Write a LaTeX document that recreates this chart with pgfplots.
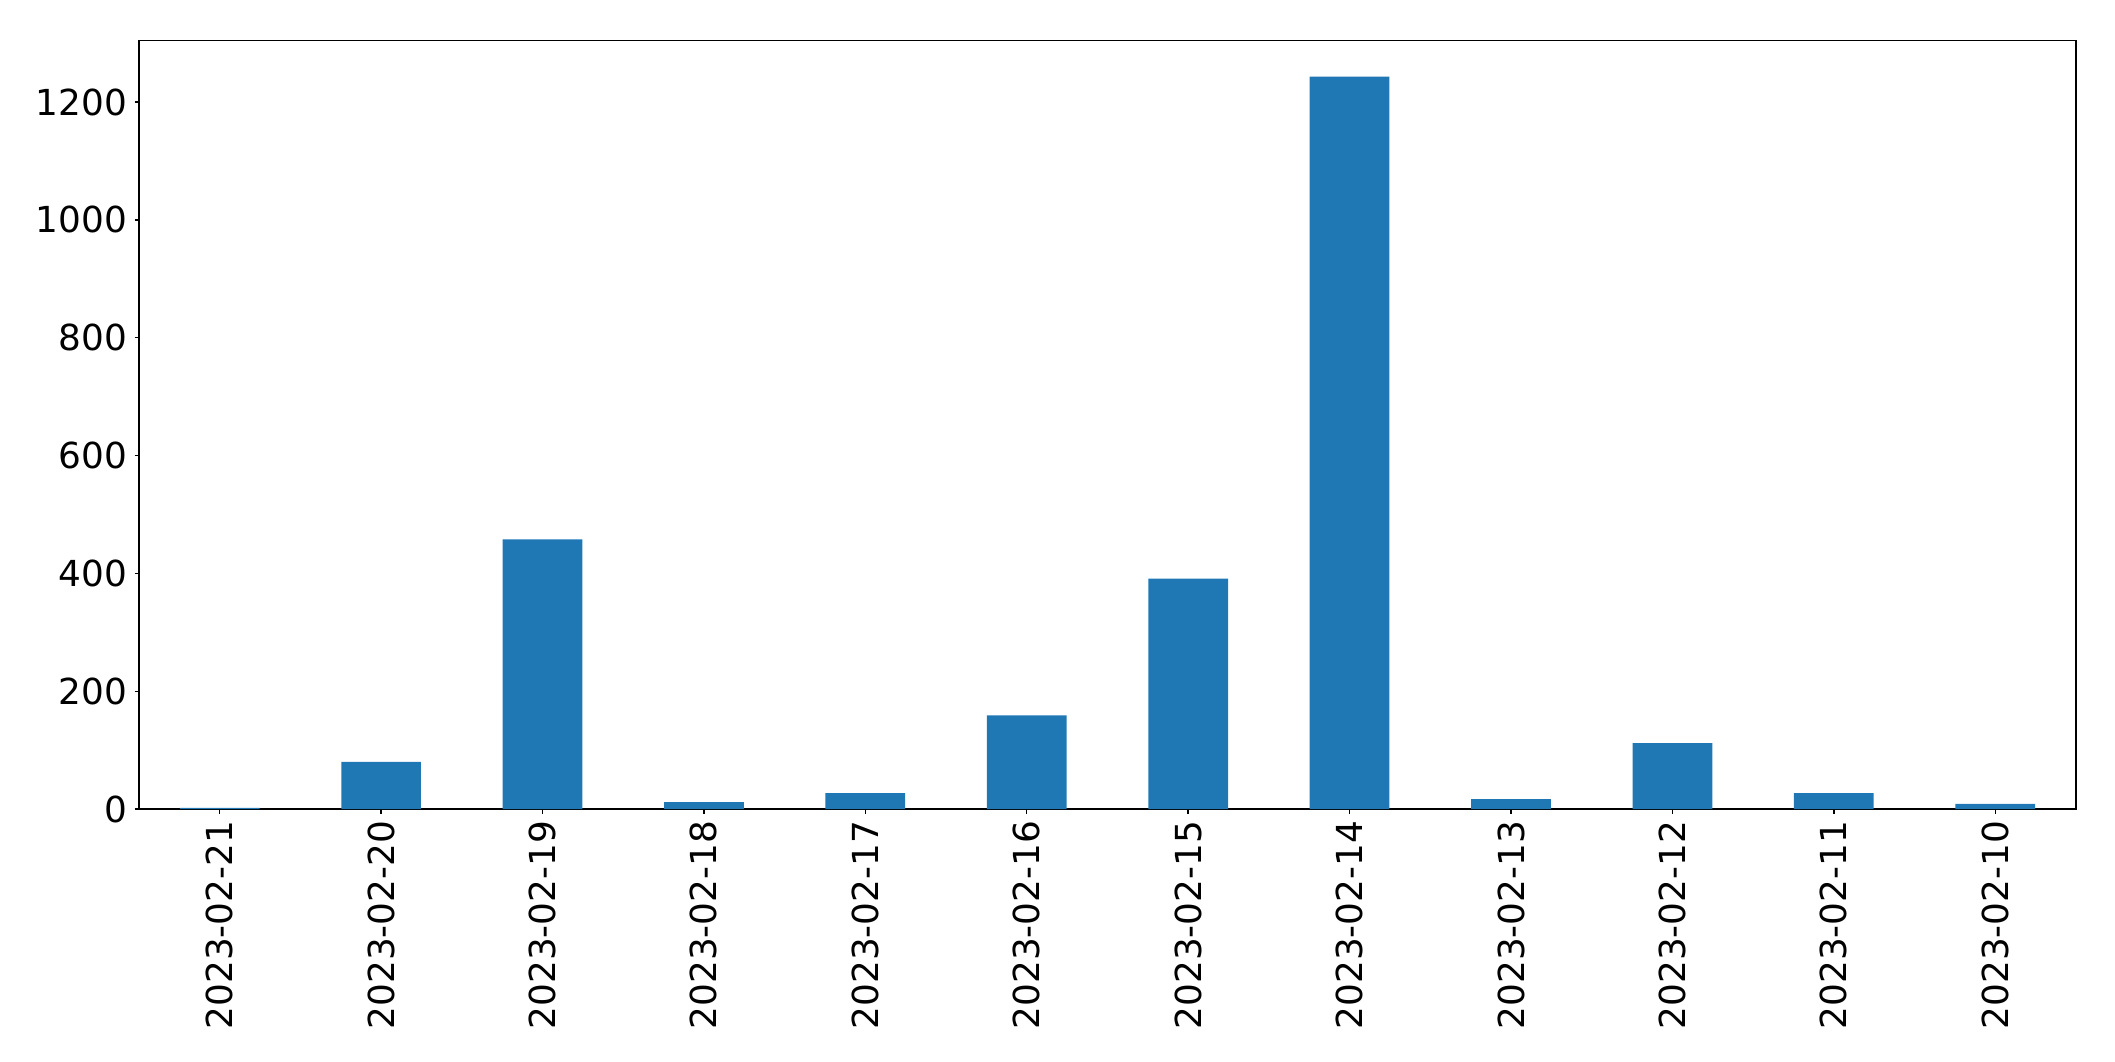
\documentclass[border=0pt]{standalone}
\usepackage{pgfplots}
\pgfplotsset{compat=1.18}
\usepackage{fontspec}
\setmainfont{DejaVu Sans}
\definecolor{mplblue}{HTML}{1F77B4}
\begin{document}
\begin{tikzpicture}
\path (0,0) rectangle (761.4pt,382pt);
\begin{axis}[
  at={(50.04pt,90.72pt)}, anchor=south west,
  scale only axis, width=697.3pt, height=276.8pt,
  xmin=-0.5, xmax=11.5, ymin=0, ymax=1305,
  xtick={0,...,11},
  xticklabels={2023-02-21,2023-02-20,2023-02-19,2023-02-18,2023-02-17,2023-02-16,2023-02-15,2023-02-14,2023-02-13,2023-02-12,2023-02-11,2023-02-10},
  ytick={0,200,400,600,800,1000,1200},
  x tick label style={rotate=90, anchor=east, inner sep=2.5pt, font=\fontsize{12.9}{15}\selectfont},
  y tick label style={inner sep=2.5pt, font=\fontsize{12.9}{15}\selectfont},
  /pgf/number format/assume math mode=true,
  /pgf/number format/1000 sep={},
  tick align=outside, major tick length=1.6pt,
  tick style={line width=0.5pt, black},
  axis line style={line width=0.5pt},
  xtick pos=bottom, ytick pos=left,
  ybar, bar width=28.7pt,
]
\addplot[fill=mplblue, draw=none] coordinates {
(0,2) (1,80) (2,458) (3,12) (4,27) (5,159) (6,391) (7,1243) (8,17) (9,112) (10,27) (11,9)
};
\end{axis}
\end{tikzpicture}
\end{document}
